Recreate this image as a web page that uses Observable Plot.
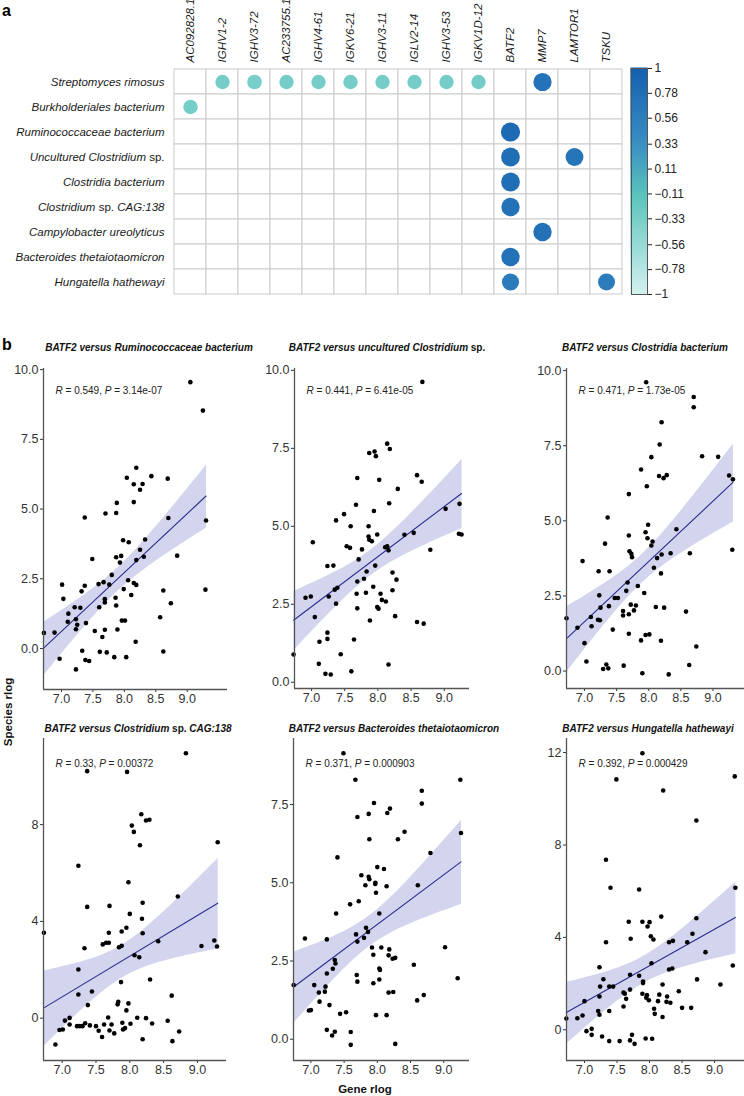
<!DOCTYPE html>
<html><head><meta charset="utf-8">
<script src="https://cdn.jsdelivr.net/npm/d3@7"></script>
<script src="https://cdn.jsdelivr.net/npm/@observablehq/plot@0.6"></script>
<style>
body{margin:0;background:#fff;font-family:"Liberation Sans",Arial,Helvetica,sans-serif;}
#root{position:relative;width:744px;height:1096px;overflow:hidden;background:#fff;}
.lab{position:absolute;font-weight:bold;font-size:16px;color:#000;}
.ptitle{position:absolute;font-weight:bold;font-style:italic;font-size:10px;white-space:nowrap;color:#111;transform:translate(-50%,-50%);}
.axlab{position:absolute;font-weight:bold;font-size:11.5px;white-space:nowrap;color:#111;}
</style></head><body><div id="root"></div>
<script>
// ---------- Panel a: heatmap data ----------
const genes = ["AC092828.1","IGHV1-2","IGHV3-72","AC233755.1","IGHV4-61","IGKV6-21","IGHV3-11","IGLV2-14","IGHV3-53","IGKV1D-12","BATF2","MMP7","LAMTOR1","TSKU"];
const species = ["Streptomyces rimosus","Burkholderiales bacterium","Ruminococcaceae bacterium","Uncultured Clostridium |sp.|","Clostridia bacterium","Clostridium |sp.| CAG:138","Campylobacter ureolyticus","Bacteroides thetaiotaomicron","Hungatella hathewayi"];
const corrSpecies = [0,0,0,0,0,0,0,0,0,0,1,2,3,3,4,5,6,7,8,8].map(i => species[i]);
const corrGene = ["IGHV1-2","IGHV3-72","AC233755.1","IGHV4-61","IGKV6-21","IGHV3-11","IGLV2-14","IGHV3-53","IGKV1D-12","MMP7","AC092828.1","BATF2","BATF2","LAMTOR1","BATF2","BATF2","MMP7","BATF2","BATF2","TSKU"];
const corrVal = [-0.30,-0.33,-0.30,-0.30,-0.31,-0.30,-0.30,-0.30,-0.29,0.74,-0.31,0.85,0.80,0.70,0.80,0.76,0.76,0.76,0.62,0.60];
const colorTicks = [1,0.78,0.56,0.33,0.11,-0.11,-0.33,-0.56,-0.78,-1];

// ---------- Panel b: scatter data [gene rlog, species rlog] ----------
const xTicks = [7,7.5,8,8.5,9];
const titles = ["BATF2 versus Ruminococcaceae bacterium","BATF2 versus uncultured Clostridium |sp.|","BATF2 versus Clostridia bacterium","BATF2 versus Clostridium |sp.| CAG:138","BATF2 versus Bacteroides thetaiotaomicron","BATF2 versus Hungatella hathewayi"];
const stats = ["|R| = 0.549, |P| = 3.14e-07","|R| = 0.441, |P| = 6.41e-05","|R| = 0.471, |P| = 1.73e-05","|R| = 0.33, |P| = 0.00372","|R| = 0.371, |P| = 0.000903","|R| = 0.392, |P| = 0.000429"];
const p1 = [[9.05,9.55],[9.25,8.53],[9.30,4.59],[9.29,2.11],[8.19,6.48],[8.04,6.12],[8.43,6.18],[8.69,6.09],[8.15,5.89],[8.29,5.90],[8.25,5.69],[7.88,5.22],[8.15,5.25],[7.37,4.70],[7.70,4.84],[7.87,4.86],[8.70,4.68],[8.33,3.91],[7.98,3.88],[8.07,3.81],[8.25,3.54],[7.49,3.21],[7.87,3.27],[7.95,3.32],[8.31,3.29],[8.84,3.33],[7.93,3.08],[8.19,3.17],[7.80,2.64],[8.06,2.45],[8.15,2.35],[8.19,2.28],[7.59,2.31],[7.67,2.38],[7.76,2.29],[7.01,2.29],[7.37,2.25],[7.32,2.05],[7.99,2.13],[8.62,2.08],[8.11,1.92],[7.03,1.78],[7.69,1.77],[7.86,1.82],[8.74,1.62],[7.69,1.65],[7.87,1.54],[7.21,1.48],[7.30,1.46],[7.60,1.48],[6.72,0.56],[6.89,0.57],[6.97,-0.37],[7.23,-0.75],[7.11,1.25],[7.10,0.96],[7.23,1.05],[7.23,0.69],[7.25,0.85],[7.39,0.91],[7.33,-0.08],[7.38,-0.41],[7.44,-0.45],[7.53,0.63],[7.65,0.41],[7.69,0.67],[7.61,-0.12],[7.72,-0.14],[7.84,-0.31],[7.89,0.68],[7.96,1.00],[8.01,1.00],[8.03,-0.31],[8.18,0.24],[8.57,1.12],[8.62,-0.11]];
const p2 = [[8.67,9.63],[8.14,7.65],[8.18,7.48],[7.87,7.35],[7.95,7.40],[7.97,7.25],[7.69,6.55],[8.02,6.49],[8.59,6.64],[8.66,6.43],[8.30,6.20],[7.67,5.69],[7.49,5.39],[8.17,5.74],[7.94,5.49],[7.37,5.19],[7.59,5.00],[7.86,5.00],[9.02,5.56],[9.23,5.72],[7.86,4.67],[7.87,4.57],[7.99,4.74],[7.91,4.52],[8.40,4.73],[8.54,4.79],[9.22,4.76],[9.26,4.74],[7.02,4.49],[7.53,4.36],[7.58,4.31],[7.76,4.26],[8.11,4.33],[8.14,4.36],[8.16,4.23],[8.79,4.25],[7.71,3.94],[7.24,3.73],[7.33,3.74],[7.96,3.74],[7.83,3.55],[8.22,3.52],[7.79,3.32],[8.28,3.29],[7.69,3.23],[7.39,3.03],[7.35,2.97],[7.93,3.06],[8.22,2.95],[7.26,2.75],[6.91,2.71],[6.99,2.75],[7.68,2.84],[7.82,2.87],[8.04,2.84],[7.37,2.52],[8.06,2.64],[8.12,2.59],[7.69,2.37],[7.99,2.41],[8.01,2.36],[7.05,2.09],[8.26,2.12],[7.88,1.98],[8.59,1.93],[8.69,1.88],[7.24,1.59],[7.12,1.30],[7.24,1.39],[7.64,1.37],[6.73,0.89],[7.44,0.90],[7.11,0.59],[8.16,0.57],[7.21,0.27],[7.29,0.25],[7.60,0.35]];
const p3 = [[7.96,9.61],[8.70,9.12],[8.70,8.78],[8.20,8.28],[8.17,7.54],[8.83,7.15],[9.08,7.13],[8.04,7.12],[7.88,6.71],[8.16,6.49],[8.23,6.42],[8.28,6.52],[9.25,6.51],[9.31,6.38],[7.97,6.15],[7.69,5.89],[7.36,5.11],[7.99,4.87],[7.95,4.62],[8.43,4.72],[7.98,4.42],[7.69,4.51],[8.06,4.31],[8.04,4.18],[7.32,4.24],[9.30,4.04],[6.97,3.66],[7.70,3.99],[7.73,3.90],[7.74,3.79],[8.20,3.88],[8.34,3.92],[8.64,3.92],[8.13,3.76],[8.08,3.44],[7.22,3.32],[7.39,3.32],[8.19,3.25],[7.67,2.95],[7.65,2.67],[7.83,2.83],[7.23,2.52],[7.93,2.60],[7.47,2.43],[7.52,2.43],[7.38,2.16],[7.25,2.11],[7.72,2.21],[7.80,2.18],[8.11,2.13],[8.24,2.11],[7.77,2.02],[6.72,1.76],[6.89,1.44],[7.10,1.80],[7.11,1.49],[7.21,1.71],[7.24,1.69],[7.00,0.93],[7.03,0.32],[7.29,0.07],[7.34,0.22],[7.37,0.09],[7.44,1.38],[7.61,0.18],[7.60,2.00],[7.60,1.85],[7.69,1.89],[7.69,1.24],[7.88,1.02],[7.90,-0.07],[7.95,1.20],[8.01,1.22],[8.19,1.01],[8.31,-0.11],[8.58,1.98],[8.63,0.20],[8.74,0.82]];
const p4 = [[8.83,10.95],[7.37,10.21],[7.96,10.18],[8.17,8.43],[8.24,8.17],[8.29,8.20],[8.03,7.96],[8.06,7.70],[9.30,7.27],[8.15,7.15],[7.24,6.30],[7.98,5.62],[8.71,5.03],[8.19,4.77],[7.37,4.60],[7.70,4.64],[8.00,4.31],[8.18,4.11],[6.73,3.53],[7.69,3.53],[7.88,3.58],[7.95,3.74],[8.19,3.51],[9.25,3.21],[7.33,2.89],[7.60,3.05],[7.65,3.12],[7.69,3.12],[7.84,2.93],[7.88,2.99],[8.42,3.18],[9.06,2.98],[9.29,2.96],[8.07,2.60],[8.14,2.52],[7.24,2.01],[7.87,1.49],[8.30,1.60],[7.24,0.98],[7.44,1.10],[7.38,0.54],[7.82,0.57],[7.83,0.68],[7.98,0.61],[7.95,0.32],[8.62,0.93],[7.04,-0.10],[7.11,0.01],[7.11,-0.26],[6.96,-0.49],[7.01,-0.47],[6.90,-1.09],[7.22,-0.33],[7.26,-0.33],[7.30,-0.33],[7.34,-0.21],[7.41,-0.30],[7.50,-0.33],[7.54,-0.52],[7.59,-0.78],[7.62,-0.26],[7.68,0.03],[7.70,-0.51],[7.73,-0.26],[7.77,-0.63],[7.89,-0.19],[7.90,-0.47],[7.93,-0.41],[8.01,-0.23],[8.11,0.02],[8.19,-0.87],[8.24,0.00],[8.33,-0.22],[8.56,-0.11],[8.63,-0.95],[8.73,-0.55]];
const p5 = [[7.49,9.14],[7.67,8.29],[9.25,8.29],[8.67,7.94],[7.95,7.55],[8.67,7.53],[8.19,7.37],[8.15,7.23],[7.87,7.20],[7.70,7.10],[8.41,6.63],[9.26,6.59],[8.31,6.39],[7.88,6.39],[8.80,5.95],[7.40,5.81],[8.00,5.50],[8.10,5.44],[7.76,5.24],[7.87,5.19],[7.88,5.11],[7.82,4.92],[7.97,5.00],[7.97,4.96],[8.14,4.89],[8.61,4.92],[7.98,4.68],[7.59,4.31],[7.72,4.41],[7.38,4.02],[8.03,4.02],[7.83,3.56],[7.86,3.43],[7.68,3.35],[7.80,3.24],[6.91,3.22],[7.24,3.19],[7.70,3.12],[7.36,2.53],[7.37,2.42],[7.33,2.25],[7.24,2.10],[7.92,2.93],[8.06,2.93],[7.94,2.70],[8.18,2.87],[8.17,2.68],[8.23,2.57],[8.27,2.60],[8.03,2.26],[8.04,2.21],[7.69,2.05],[7.70,1.84],[7.94,1.79],[7.22,1.68],[7.21,1.52],[7.05,1.73],[7.12,1.49],[7.00,0.93],[6.97,0.92],[7.13,1.20],[7.28,1.09],[7.44,0.81],[7.53,0.86],[7.24,0.30],[7.36,0.24],[7.32,0.12],[7.60,0.23],[7.60,-0.18],[7.98,0.77],[8.03,1.91],[8.17,1.49],[8.24,1.51],[8.14,0.77],[8.55,2.38],[8.60,1.24],[8.70,1.41],[9.02,2.94],[9.21,1.95],[8.27,-0.15],[6.74,1.73]];
const p6 = [[7.89,11.97],[7.49,10.84],[9.31,10.97],[8.21,10.36],[8.72,9.06],[7.33,7.36],[7.40,6.15],[7.84,6.07],[9.32,6.15],[8.18,4.90],[8.72,4.83],[7.68,4.68],[7.89,4.68],[8.00,4.66],[7.97,4.47],[8.66,4.16],[8.02,4.05],[7.71,3.94],[8.06,3.91],[7.33,3.79],[8.30,3.79],[8.36,3.85],[8.58,3.79],[8.86,3.36],[8.03,2.88],[8.30,2.61],[8.35,2.65],[9.28,2.78],[7.23,2.71],[7.70,2.38],[7.84,2.34],[7.29,2.19],[8.73,2.18],[7.90,2.09],[7.90,2.02],[8.20,1.96],[9.09,1.96],[7.38,1.87],[7.24,1.87],[7.44,1.87],[7.60,1.61],[7.62,1.56],[7.70,1.74],[8.45,1.67],[7.89,1.56],[7.96,1.50],[8.15,1.52],[8.27,1.44],[7.64,1.34],[7.99,1.28],[7.95,1.39],[8.13,1.24],[8.26,1.21],[8.32,1.17],[7.23,1.44],[7.21,0.81],[7.23,0.65],[7.00,1.24],[7.60,1.01],[7.38,0.81],[6.97,0.62],[6.89,0.50],[6.72,0.49],[8.07,0.91],[8.08,0.69],[8.20,0.55],[8.50,0.95],[8.64,0.95],[7.03,-0.06],[7.11,0.04],[7.11,-0.22],[7.27,-0.29],[7.38,-0.49],[7.54,-0.49],[7.70,-0.46],[7.73,-0.22],[7.77,-0.61],[7.94,-0.38],[8.04,-0.39]];

// ---------- helpers ----------
const FONT = '"Liberation Sans", Arial, Helvetica, sans-serif';
const root = document.getElementById("root");
function place(el, left, top) { el.style.position = "absolute"; el.style.left = left + "px"; el.style.top = top + "px"; root.appendChild(el); }
// "|...|" toggles italic relative to the base style
function rich(svg, baseItalic) {
  d3.select(svg).selectAll("text").each(function () {
    const t = this.textContent;
    if (!t.includes("|")) return;
    const parts = t.split("|");
    while (this.firstChild) this.removeChild(this.firstChild);
    parts.forEach((p, i) => {
      if (!p) return;
      const ts = document.createElementNS("http://www.w3.org/2000/svg", "tspan");
      ts.textContent = p;
      ts.setAttribute("font-style", ((i % 2 === 1) !== baseItalic) ? "italic" : "normal");
      this.appendChild(ts);
    });
  });
}
function richHTML(s) { return s.split("|").map((p, i) => i % 2 ? `<span style="font-style:normal">${p}</span>` : p).join(""); }
function div(cls, html, left, top) { const d = document.createElement("div"); d.className = cls; d.innerHTML = html; d.style.left = left + "px"; d.style.top = top + "px"; root.appendChild(d); return d; }

const colorScale = {type: "linear", domain: [-1, -0.11, 0.33, 1], range: ["#d4f1ef", "#5ac3bb", "#3b8fc2", "#1560b0"], interpolate: "rgb"};

// ---------- heatmap ----------
const heat = Plot.plot({
  width: 630, height: 300, marginLeft: 172, marginRight: 6, marginTop: 66, marginBottom: 4,
  style: {fontFamily: FONT, fontSize: "11.5px", fontStyle: "italic", color: "#1a1a1a", background: "transparent", overflow: "visible"},
  x: {domain: genes, axis: "top", padding: 0, tickRotate: -90, tickSize: 0, tickPadding: 4, label: null},
  y: {domain: species, padding: 0, tickSize: 0, tickPadding: 8, label: null},
  color: colorScale,
  r: {type: "linear", domain: [0.3, 0.85], range: [7.2, 9.6]},
  marks: [
    Plot.cell(d3.cross(species, genes), {x: d => d[1], y: d => d[0], fill: "#fff", stroke: "#cbcbcb", strokeWidth: 1, inset: 0}),
    Plot.dot(d3.range(corrVal.length), {x: i => corrGene[i], y: i => corrSpecies[i], r: i => Math.abs(corrVal[i]), fill: i => corrVal[i], stroke: "none"})
  ]
});
rich(heat, true);
place(heat, 0, 0);

// ---------- colour bar ----------
const cb = Plot.plot({
  width: 124, height: 300, marginLeft: 11, marginRight: 97, marginTop: 68, marginBottom: 6,
  style: {fontFamily: FONT, fontSize: "12px", color: "#222", background: "transparent", overflow: "visible"},
  y: {domain: [-1, 1], ticks: colorTicks, tickFormat: d3.format(""), axis: "right", tickSize: 4, tickPadding: 3, label: null},
  color: colorScale,
  marks: [
    Plot.rect(d3.range(-1, 1, 0.01), {y1: d => d, y2: d => d + 0.01, fill: d => d + 0.005, stroke: d => d + 0.005, strokeWidth: 1}),
    Plot.frame({stroke: "#555", strokeWidth: 1})
  ]
});
place(cb, 620, 0);

// ---------- scatter panels ----------
const panels = [
  {pts: p1, left: 43, top: 368, w: 184, h: 321, mr: 4, xDomain: [6.714, 9.641], yDomain: [-1.47, 10.04], yTicks: [0, 2.5, 5, 7.5, 10], yFmt: ".1f", tx: 149, ty: 347, sdy: 22},
  {pts: p2, left: 294, top: 368, w: 175, h: 320, mr: 4, xDomain: [6.744, 9.38], yDomain: [-0.2, 10.06], yTicks: [0, 2.5, 5, 7.5, 10], yFmt: ".1f", tx: 387, ty: 347, sdy: 22},
  {pts: p3, left: 566, top: 368, w: 178, h: 320, mr: 0, xDomain: [6.72, 9.49], yDomain: [-0.58, 10.07], yTicks: [0, 2.5, 5, 7.5, 10], yFmt: ".1f", tx: 645, ty: 347, sdy: 22},
  {pts: p4, left: 43, top: 738, w: 183, h: 322, mr: 4, xDomain: [6.724, 9.43], yDomain: [-1.75, 11.56], yTicks: [0, 4, 8], yFmt: "d", tx: 138, ty: 728, sdy: 25},
  {pts: p5, left: 293, top: 738, w: 176, h: 322, mr: 4, xDomain: [6.738, 9.388], yDomain: [-0.68, 9.61], yTicks: [0, 2.5, 5, 7.5], yFmt: ".1f", tx: 394, ty: 728, sdy: 25},
  {pts: p6, left: 566, top: 738, w: 178, h: 322, mr: 0, xDomain: [6.723, 9.46], yDomain: [-1.33, 12.61], yTicks: [0, 4, 8, 12], yFmt: "d", tx: 648, ty: 728, sdy: 25}
];
panels.forEach((c, k) => {
  const ML = 40, MT = 4, MB = 28;
  const svg = Plot.plot({
    width: ML + c.w + c.mr, height: MT + c.h + MB,
    marginLeft: ML, marginRight: c.mr, marginTop: MT, marginBottom: MB,
    style: {fontFamily: FONT, fontSize: "12.5px", color: "#333", background: "transparent", overflow: "visible"},
    x: {domain: c.xDomain, ticks: xTicks, tickFormat: ".1f", tickSize: 3, tickPadding: 2, label: null},
    y: {domain: c.yDomain, ticks: c.yTicks, tickFormat: c.yFmt, tickSize: 3, tickPadding: 2, label: null},
    marks: [
      Plot.linearRegressionY(c.pts, {x: d => d[0], y: d => d[1], stroke: "#2b2d8e", strokeWidth: 1.1, fill: "#9da0d6", fillOpacity: 0.45}),
      Plot.dot(c.pts, {x: d => d[0], y: d => d[1], r: 2.3, fill: "#000", stroke: "none"}),
      Plot.ruleX([c.xDomain[0]], {stroke: "#555", strokeWidth: 1.3}),
      Plot.ruleY([c.yDomain[0]], {stroke: "#555", strokeWidth: 1.3}),
      Plot.text([stats[k]], {text: d => d, frameAnchor: "top-left", dx: 12, dy: c.sdy, lineAnchor: "middle", textAnchor: "start", fontSize: 10, fill: "#222"})
    ]
  });
  rich(svg, false);
  place(svg, c.left - ML, c.top - MT);
  div("ptitle", richHTML(titles[k]), c.tx, c.ty);
});

// ---------- labels ----------
div("lab", "a", 2, 2);
div("lab", "b", 2, 336);
const yl = div("axlab", "Species rlog", 8, 712);
yl.style.transform = "translate(-50%,-50%) rotate(-90deg)";
const xl = div("axlab", "Gene rlog", 365, 1089);
xl.style.transform = "translate(-50%,-50%)";
</script></body></html>
